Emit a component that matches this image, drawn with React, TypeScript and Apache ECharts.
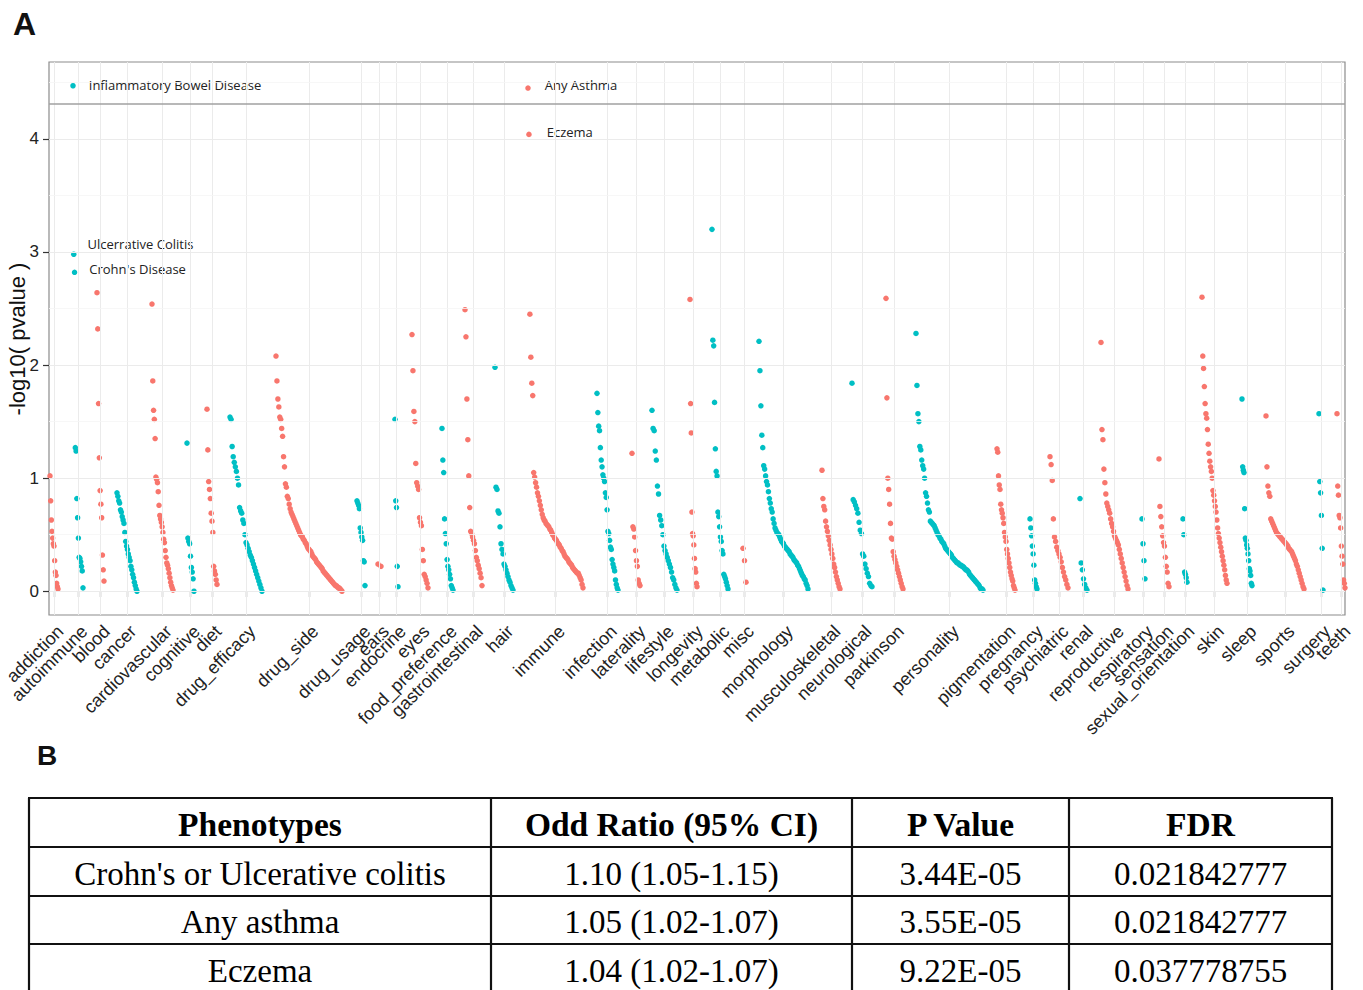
import React, { useEffect, useRef } from "react";
import * as echarts from "echarts";

// ---------------- DATA ----------------
const categories = [
  "addiction", "autoimmune", "blood", "cancer", "cardiovascular", "cognitive", "diet", "drug_efficacy",
  "drug_side", "drug_usage", "ears", "endocrine", "eyes", "food_preference", "gastrointestinal", "hair",
  "immune", "infection", "laterality", "lifestyle", "longevity", "metabolic", "misc", "morphology",
  "musculoskeletal", "neurological", "parkinson", "personality", "pigmentation", "pregnancy", "psychiatric",
  "renal", "reproductive", "respiratory", "sensation", "sexual_orientation", "skin", "sleep", "sports",
  "surgery", "teeth",
];

// phenotype index range (first, last) occupied by each category on the x axis
const indexFirst = [1, 24, 48, 68, 103, 138, 158, 181, 227, 308, 329, 346, 363, 393, 416, 446, 479, 548, 583, 603, 641, 663, 694, 710, 773, 803, 837, 867, 948, 981, 1001, 1031, 1052, 1093, 1110, 1134, 1153, 1193, 1217, 1270, 1288];
const indexLast = [9, 34, 55, 88, 124, 145, 168, 213, 293, 316, 332, 349, 379, 404, 433, 464, 534, 569, 591, 628, 648, 679, 697, 759, 791, 823, 854, 934, 966, 988, 1019, 1038, 1079, 1096, 1120, 1138, 1178, 1203, 1255, 1274, 1296];

// -log10(p) per phenotype, sorted within category
const addiction = [1.02, 0.80, 0.63, 0.53, 0.47, 0.42, 0.40, 0.27, 0.17, 0.14, 0.07, 0.04, 0.02];
const autoimmune = [4.47, 2.98, 2.82, 1.27, 1.24, 0.82, 0.65, 0.47, 0.30, 0.29, 0.26, 0.22, 0.18, 0.03];
const blood = [2.64, 2.32, 1.66, 1.18, 0.89, 0.77, 0.65, 0.32, 0.19, 0.09];
const cancer = [0.87, 0.84, 0.80, 0.78, 0.72, 0.70, 0.66, 0.63, 0.60, 0.52, 0.44, 0.40, 0.37, 0.33, 0.30, 0.27, 0.22, 0.19, 0.15, 0.12, 0.08, 0.05, 0.02, 0.00];
const cardiovascular = [2.54, 1.86, 1.60, 1.52, 1.35, 1.01, 0.99, 0.96, 0.88, 0.76, 0.67, 0.64, 0.61, 0.57, 0.52, 0.46, 0.43, 0.36, 0.30, 0.25, 0.23, 0.20, 0.16, 0.12, 0.08, 0.05, 0.03, 0.01];
const cognitive = [1.31, 0.47, 0.44, 0.42, 0.31, 0.21, 0.17, 0.11, 0.00];
const diet = [1.61, 1.25, 0.97, 0.90, 0.82, 0.69, 0.62, 0.52, 0.22, 0.18, 0.15, 0.10, 0.06];
const drugEfficacy = [1.54, 1.52, 1.28, 1.19, 1.14, 1.10, 1.06, 1.00, 0.94, 0.74, 0.71, 0.69, 0.63, 0.60, 0.50, 0.43, 0.41, 0.38, 0.35, 0.32, 0.30, 0.27, 0.24, 0.21, 0.18, 0.15, 0.12, 0.09, 0.06, 0.03, 0.00];
const drugSide = [2.08, 1.86, 1.70, 1.63, 1.54, 1.52, 1.44, 1.37, 1.19, 1.10, 0.95, 0.92, 0.84,
  0.82, 0.77, 0.73, 0.70, 0.68, 0.66, 0.64, 0.62, 0.60, 0.58, 0.56, 0.54, 0.52, 0.50, 0.49, 0.48, 0.46, 0.45,
  0.43, 0.42, 0.40, 0.38, 0.37, 0.36, 0.35, 0.33, 0.31, 0.30, 0.29, 0.28, 0.26, 0.25, 0.24, 0.23, 0.22, 0.21,
  0.20, 0.18, 0.17, 0.16, 0.15, 0.14, 0.13, 0.12, 0.11, 0.10, 0.09, 0.08, 0.07, 0.06, 0.05, 0.05, 0.04, 0.03,
  0.03, 0.02, 0.01, 0.00];
const drugUsage = [0.80, 0.78, 0.76, 0.73, 0.56, 0.52, 0.48, 0.45, 0.27, 0.26, 0.05];
const ears = [0.24, 0.22];
const endocrine = [1.52, 0.80, 0.74, 0.22, 0.04];
const eyes = [2.27, 1.95, 1.59, 1.50, 1.13, 0.96, 0.93, 0.90, 0.65, 0.61, 0.58, 0.37, 0.27, 0.15, 0.13, 0.10, 0.07, 0.03];
const foodPreference = [1.44, 1.16, 1.05, 0.64, 0.51, 0.42, 0.28, 0.22, 0.19, 0.15, 0.11, 0.05, 0.03, 0.01];
const gastrointestinal = [2.49, 2.25, 1.70, 1.34, 1.02, 0.74, 0.53, 0.51, 0.48, 0.45, 0.42, 0.36, 0.30, 0.27, 0.23, 0.20, 0.16, 0.12, 0.05];
const hair = [1.98, 0.92, 0.90, 0.71, 0.69, 0.57, 0.42, 0.37, 0.33, 0.24, 0.22, 0.19, 0.16, 0.13, 0.10, 0.08, 0.05, 0.03, 0.01];
const immune = [4.45, 4.04, 2.45, 2.07, 1.84, 1.73,
  1.05, 1.01, 0.96, 0.92, 0.87, 0.84, 0.80, 0.76, 0.72, 0.68, 0.65, 0.63, 0.62, 0.60, 0.59, 0.58, 0.57, 0.55,
  0.54, 0.52, 0.50, 0.49, 0.47, 0.46, 0.45, 0.43, 0.42, 0.41, 0.39, 0.38, 0.36, 0.35, 0.33, 0.31, 0.30, 0.29,
  0.28, 0.26, 0.25, 0.24, 0.23, 0.21, 0.20, 0.19, 0.18, 0.17, 0.16, 0.16, 0.14, 0.12, 0.10, 0.06, 0.03];
const infection = [1.75, 1.58, 1.46, 1.42, 1.27, 1.16, 1.10, 1.03, 1.00, 0.97, 0.87, 0.83, 0.72, 0.53, 0.51, 0.45, 0.39, 0.37, 0.28, 0.24, 0.21, 0.18, 0.10, 0.06, 0.03, 0.01];
const laterality = [1.22, 0.57, 0.55, 0.48, 0.36, 0.27, 0.22, 0.10, 0.07, 0.05];
const lifestyle = [1.60, 1.44, 1.42, 1.24, 1.16, 0.93, 0.86, 0.67, 0.63, 0.58, 0.50, 0.40, 0.36, 0.33, 0.30, 0.27, 0.24, 0.21, 0.17, 0.12, 0.10, 0.06, 0.03, 0.01];
const longevity = [2.58, 1.66, 1.40, 0.70, 0.51, 0.49, 0.41, 0.29, 0.20, 0.17, 0.07, 0.04];
const metabolic = [3.20, 2.22, 2.17, 1.67, 1.26, 1.06, 1.02, 0.70, 0.66, 0.57, 0.48, 0.44, 0.36, 0.33, 0.15, 0.13, 0.11, 0.08, 0.05, 0.02];
const misc = [0.38, 0.27, 0.08];
const morphology = [2.21, 1.95, 1.64, 1.38, 1.27, 1.11, 1.08, 1.02, 0.97, 0.94, 0.88, 0.82, 0.78, 0.73, 0.70,
  0.64, 0.60, 0.56, 0.54, 0.52, 0.51, 0.50, 0.48, 0.46, 0.44, 0.43, 0.42, 0.40, 0.39, 0.38, 0.37, 0.36, 0.35,
  0.33, 0.32, 0.31, 0.30, 0.28, 0.27, 0.26, 0.25, 0.23, 0.22, 0.20, 0.18, 0.16, 0.14, 0.13, 0.11, 0.10, 0.07,
  0.05, 0.02];
const musculoskeletal = [1.07, 0.82, 0.75, 0.72, 0.62, 0.57, 0.53, 0.49, 0.45, 0.41, 0.37, 0.33, 0.29, 0.24, 0.21, 0.17, 0.13, 0.10, 0.07, 0.04, 0.02];
const neurological = [1.84, 0.81, 0.79, 0.76, 0.73, 0.69, 0.61, 0.54, 0.51, 0.33, 0.31, 0.24, 0.20, 0.16, 0.13, 0.07, 0.05, 0.04];
const parkinson = [2.59, 1.71, 1.00, 0.90, 0.77, 0.60, 0.47, 0.46, 0.35, 0.31, 0.28, 0.25, 0.22, 0.19, 0.16, 0.13, 0.10, 0.07, 0.04, 0.02];
const personality = [2.28, 1.82, 1.57, 1.50, 1.28, 1.25, 1.16, 1.11, 1.08, 1.00, 0.87, 0.84, 0.78, 0.72, 0.70, 0.62,
  0.61, 0.60, 0.59, 0.58, 0.56, 0.54, 0.52, 0.50, 0.49, 0.47, 0.46, 0.44, 0.43, 0.42, 0.40, 0.38, 0.37, 0.36,
  0.35, 0.34, 0.33, 0.32, 0.30, 0.29, 0.28, 0.27, 0.26, 0.25, 0.25, 0.24, 0.23, 0.23, 0.22, 0.22, 0.21, 0.20,
  0.19, 0.19, 0.18, 0.17, 0.15, 0.14, 0.13, 0.12, 0.11, 0.10, 0.09, 0.08, 0.07, 0.06, 0.05, 0.03, 0.02, 0.02, 0.01];
const pigmentation = [1.26, 1.23, 1.02, 0.94, 0.90, 0.77, 0.72, 0.69, 0.65, 0.60, 0.52, 0.48, 0.44, 0.37, 0.33, 0.29, 0.25, 0.21, 0.17, 0.14, 0.11, 0.09, 0.05, 0.03, 0.01];
const pregnancy = [0.64, 0.56, 0.49, 0.40, 0.33, 0.23, 0.10, 0.07, 0.04, 0.02];
const psychiatric = [1.19, 1.12, 0.98, 0.64, 0.48, 0.44, 0.39, 0.36, 0.33, 0.30, 0.26, 0.21, 0.17, 0.13, 0.10, 0.06, 0.03];
const renal = [0.82, 0.25, 0.19, 0.11, 0.06, 0.03, 0.01];
const reproductive = [2.20, 1.43, 1.34, 1.08, 0.96, 0.86, 0.78, 0.75, 0.72, 0.69, 0.64, 0.60, 0.57, 0.53, 0.49, 0.47, 0.45, 0.43, 0.41, 0.37, 0.33, 0.29, 0.25, 0.21, 0.17, 0.13, 0.09, 0.05, 0.02];
const respiratory = [0.64, 0.42, 0.27, 0.11];
const sensation = [1.17, 0.75, 0.66, 0.57, 0.49, 0.43, 0.40, 0.30, 0.22, 0.17, 0.07, 0.04];
const sexualOrientation = [0.64, 0.50, 0.17, 0.15, 0.12, 0.08];
const skin = [2.60, 2.08, 1.97, 1.81, 1.66, 1.57, 1.53, 1.43, 1.30, 1.22, 1.15, 1.10, 1.06, 1.00, 0.89, 0.85, 0.80, 0.75, 0.70, 0.63, 0.56, 0.51, 0.47, 0.43, 0.39, 0.35, 0.31, 0.27, 0.23, 0.19, 0.14, 0.10, 0.07];
const sleep = [1.70, 1.10, 1.07, 1.05, 0.73, 0.47, 0.45, 0.41, 0.38, 0.33, 0.27, 0.20, 0.18, 0.14, 0.07, 0.05];
const sports = [1.55, 1.10, 0.93, 0.87, 0.84, 0.64, 0.62, 0.60, 0.58, 0.56, 0.54, 0.52, 0.51, 0.50, 0.49, 0.48, 0.47, 0.46, 0.45, 0.44, 0.43, 0.42, 0.41, 0.40, 0.38, 0.37, 0.36, 0.35, 0.33, 0.31, 0.29, 0.27, 0.24, 0.22, 0.19, 0.16, 0.13, 0.10, 0.07, 0.04, 0.02];
const surgery = [1.57, 0.97, 0.87, 0.67, 0.38, 0.01];
const teeth = [1.57, 0.93, 0.85, 0.67, 0.65, 0.56, 0.40, 0.31, 0.24, 0.10, 0.07, 0.03];

const groupValues = [addiction, autoimmune, blood, cancer, cardiovascular, cognitive, diet, drugEfficacy,
  drugSide, drugUsage, ears, endocrine, eyes, foodPreference, gastrointestinal, hair, immune, infection,
  laterality, lifestyle, longevity, metabolic, misc, morphology, musculoskeletal, neurological, parkinson,
  personality, pigmentation, pregnancy, psychiatric, renal, reproductive, respiratory, sensation,
  sexualOrientation, skin, sleep, sports, surgery, teeth];

// labelled phenotypes: category, rank within category, name
const labelCategory = ["autoimmune", "autoimmune", "autoimmune", "immune", "immune"];
const labelRank = [0, 1, 2, 0, 1];
const labelNames = ["Inflammatory Bowel Disease", "Ulcerrative Colitis", "Crohn's Disease", "Any Asthma", "Eczema"];

const threshold = 4.31;
const yTicks = [0, 1, 2, 3, 4];
const yMinor = [0.5, 1.5, 2.5, 3.5, 4.5];
const yTitle = "-log10( pvalue )";

// table (panel B)
const tableHeaders = ["Phenotypes", "Odd Ratio (95% CI)", "P Value", "FDR"];
const tablePhenotypes = ["Crohn's or Ulcerative colitis", "Any asthma", "Eczema"];
const tableOddRatios = ["1.10 (1.05-1.15)", "1.05 (1.02-1.07)", "1.04 (1.02-1.07)"];
const tablePValues = ["3.44E-05", "3.55E-05", "9.22E-05"];
const tableFDR = ["0.021842777", "0.021842777", "0.037778755"];

// ---------------- STYLE ----------------
const RED = "#F8766D";
const TEAL = "#00BFC4";
const labelStyle = [
  { distance: 13, offset: [0, -1] },
  { distance: 11, offset: [0, -10] },
  { distance: 12, offset: [0, -3] },
  { distance: 14, offset: [0, -3] },
  { distance: 15, offset: [0, -2] },
];
const SANS = '"Liberation Sans", Arial, sans-serif';

export default function App() {
  const ref = useRef<HTMLDivElement>(null);

  useEffect(() => {
    if (!ref.current) return;
    const chart = echarts.init(ref.current, null, { renderer: "svg" });

    const centers = categories.map((_, i) => (indexFirst[i] + indexLast[i]) / 2);
    const evenCenters = centers.filter((_, i) => i % 2 === 0);
    const oddCenters = centers.filter((_, i) => i % 2 === 1);

    const redData: any[] = [];
    const tealData: any[] = [];
    categories.forEach((cat, gi) => {
      const vals = groupValues[gi];
      const n = vals.length;
      const step = n > 1 ? (indexLast[gi] - indexFirst[gi]) / (n - 1) : 0;
      vals.forEach((v, k) => {
        const item: any = { value: [indexFirst[gi] + k * step, v] };
        const li = labelCategory.findIndex((c, j) => c === cat && labelRank[j] === k);
        if (li >= 0) {
          item.label = {
            show: true,
            position: "right",
            distance: labelStyle[li].distance,
            offset: labelStyle[li].offset,
            formatter: labelNames[li],
            fontFamily: '"Open Sans", "Noto Sans", sans-serif',
            fontSize: 13,
            color: "#222",
          };
        }
        (gi % 2 === 0 ? redData : tealData).push(item);
      });
    });

    const labelFor = (v: number) => {
      let best = 0;
      let bd = Infinity;
      centers.forEach((c, i) => {
        const d = Math.abs(c - v);
        if (d < bd) { bd = d; best = i; }
      });
      return categories[best];
    };

    const gridLines: any[] = [
      ...centers.map((c) => ({ xAxis: c, lineStyle: { color: "#EBEBEB", width: 1, type: "solid" } })),
      ...yMinor.map((v) => ({ yAxis: v, lineStyle: { color: "#F5F5F5", width: 0.8, type: "solid" } })),
      ...yTicks.map((v) => ({ yAxis: v, lineStyle: { color: "#EBEBEB", width: 1.2, type: "solid" } })),
      { yAxis: threshold, lineStyle: { color: "#A0A0A0", width: 1.5, type: "solid" } },
    ];

    const serif = '"Liberation Serif", "Times New Roman", serif';
    const tableLeft = 29, tableRight = 1332;
    const colX = [29, 491, 852, 1069, 1332];
    const rowY = [798, 847, 896, 944, 993];
    const graphics: any[] = [
      { type: "text", left: 13, top: 8, style: { text: "A", font: `bold 32px ${SANS}`, fill: "#111" } },
      { type: "text", left: 37, top: 741, style: { text: "B", font: `bold 28px ${SANS}`, fill: "#111" } },
      {
        type: "text", x: 17, y: 339, rotation: Math.PI / 2,
        style: { text: yTitle, font: `22px ${SANS}`, fill: "#111", textAlign: "center", textVerticalAlign: "middle" },
      },
    ];
    rowY.forEach((y) => graphics.push({ type: "line", shape: { x1: tableLeft - 1, y1: y, x2: tableRight + 1, y2: y }, style: { stroke: "#111", lineWidth: 2.2 } }));
    colX.forEach((x) => graphics.push({ type: "line", shape: { x1: x, y1: rowY[0], x2: x, y2: rowY[4] }, style: { stroke: "#111", lineWidth: 2.2 } }));
    const columns = [tablePhenotypes, tableOddRatios, tablePValues, tableFDR];
    tableHeaders.forEach((h, ci) => {
      const cx = (colX[ci] + colX[ci + 1]) / 2;
      graphics.push({ type: "text", x: cx, y: (rowY[0] + rowY[1]) / 2 + 2, style: { text: h, font: `bold 33.5px ${serif}`, fill: "#000", textAlign: "center", textVerticalAlign: "middle" } });
      columns[ci].forEach((t, ri) => {
        graphics.push({ type: "text", x: cx, y: (rowY[ri + 1] + rowY[ri + 2]) / 2 + 2, style: { text: t, font: `33px ${serif}`, fill: "#000", textAlign: "center", textVerticalAlign: "middle" } });
      });
    });

    const xLabelCommon = {
      showMinLabel: true,
      showMaxLabel: true,
      hideOverlap: false,
      formatter: (v: number) => labelFor(v),
      rotate: 45,
      align: "right",
      verticalAlign: "top",
      margin: 7,
      fontSize: 18,
      fontFamily: SANS,
      color: "#222",
    };

    chart.setOption({
      animation: false,
      backgroundColor: "#fff",
      grid: {
        left: 49, right: 18, top: 62, bottom: 375,
        outerBoundsMode: "none",
        containLabel: false,
        show: true, borderColor: "#8C8C8C", borderWidth: 1.2, backgroundColor: "transparent",
      },
      xAxis: [
        {
          type: "value",
          min: 0,
          max: 1296,
          position: "bottom",
          axisLine: { show: false },
          splitLine: { show: false },
          axisTick: { show: true, customValues: centers, length: 6, lineStyle: { color: "#333", width: 1.2 } },
          axisLabel: { ...xLabelCommon, customValues: evenCenters },
        },
        {
          type: "value",
          min: 0,
          max: 1296,
          position: "bottom",
          offset: 0,
          axisLine: { show: false },
          splitLine: { show: false },
          axisTick: { show: false },
          axisLabel: { ...xLabelCommon, customValues: oddCenters },
        },
      ],
      yAxis: {
        type: "value",
        min: -0.21,
        max: 4.68,
        axisLine: { show: false },
        splitLine: { show: false },
        axisTick: { show: true, customValues: yTicks, length: 6, lineStyle: { color: "#333", width: 1.2 } },
        axisLabel: {
          customValues: yTicks,
          showMinLabel: true,
          showMaxLabel: true,
          formatter: (v: number) => String(v),
          margin: 10,
          fontSize: 17,
          fontFamily: SANS,
          color: "#222",
        },
      },
      series: [
        {
          type: "scatter",
          data: [],
          silent: true,
          z: 1,
          markLine: { silent: true, symbol: "none", label: { show: false }, data: gridLines, animation: false },
        },
        { type: "scatter", name: "odd", data: redData, symbolSize: 5.5, itemStyle: { color: RED, opacity: 1 }, z: 3 },
        { type: "scatter", name: "even", data: tealData, symbolSize: 5.5, itemStyle: { color: TEAL, opacity: 1 }, z: 3 },
      ],
      graphic: graphics,
    });

    return () => chart.dispose();
  }, []);

  return <div ref={ref} style={{ position: "absolute", left: 0, top: 0, width: 1363, height: 990 }} />;
}
